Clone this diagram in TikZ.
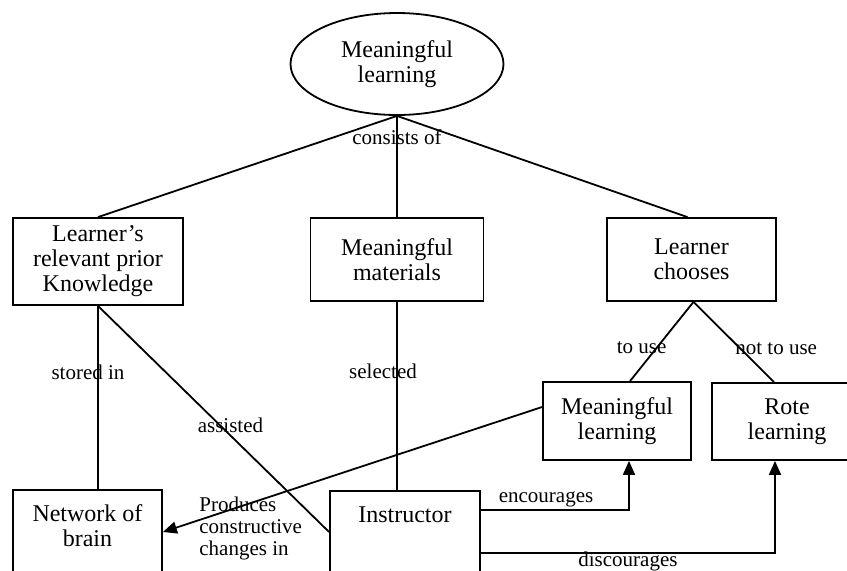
\documentclass[tikz,border=0pt]{standalone}
\usepackage{fontspec}
\setmainfont{Liberation Serif}
\usetikzlibrary{arrows.meta,positioning,calc,shapes.geometric}
\tikzset{
  box/.style={draw,line width=0.9pt,align=center,inner sep=2pt,font=\fontsize{12}{12.5}\selectfont},
  oval/.style={draw,ellipse,line width=0.9pt,align=center,inner sep=0pt,minimum width=106.5pt,minimum height=51pt,font=\fontsize{12}{12.5}\selectfont},
  open/.style={box,anchor=north,text height=12pt,text depth=40pt,inner ysep=4pt},
  lnk/.style={line width=0.9pt},
  arr/.style={lnk,-{Triangle[length=7pt,width=6pt]}},
  lbl/.style={font=\fontsize{10.5}{11}\selectfont,inner sep=1pt},
}

\begin{document}
\begin{tikzpicture}[x=0.5pt,y=-0.5pt]
 \useasboundingbox (0,0) rectangle (847,570);
 \clip (0,0) rectangle (847,570);
 \node[oval] (top) at (397,64) {Meaningful\\learning};
 \node[box,minimum width=85pt,minimum height=43.5pt] (prior) at (98,261.5) {Learner's\\relevant prior\\Knowledge};
 \node[box,minimum width=86.5pt,minimum height=41.5pt] (mat) at (397,259.5) {Meaningful\\materials};
 \node[box,minimum width=84.5pt,minimum height=41.5pt] (choose) at (691.5,259.5) {Learner\\chooses};
 \node[box,minimum width=74pt,minimum height=39pt] (mean) at (617,421) {Meaningful\\learning};
 \node[box,minimum width=75pt,minimum height=38.5pt] (rote) at (787,421.5) {Rote\\learning};
 \node[open,minimum width=74.5pt,text height=24.5pt] (brain) at (87.5,489) {Network of\\brain};
 \node[open,minimum width=75pt] (instr) at (405,490) {Instructor};
 % top level
 \draw[lnk](top.south)--(prior.north);
 \draw[lnk](top.south)--node[lbl,pos=0.21]{consists of}(mat.north);
 \draw[lnk](top.south)--([xshift=-2pt]choose.north);
 % left and middle
 \draw[lnk](prior.south)--node[lbl,pos=0.36,xshift=-5pt]{stored in}(prior.south|-brain.north);
 \draw[lnk](prior.south)--node[lbl,pos=0.53,xshift=5pt]{assisted}([yshift=-21pt]instr.north west);
 \draw[lnk](mat.south)--node[lbl,pos=0.37,xshift=-7pt]{selected}(mat.south|-instr.north);
 \draw[arr]([yshift=7pt]mean.west)--([yshift=-21.5pt]brain.north east);
 \node[lbl,align=left,anchor=north west,inner sep=0pt] (prod) at (199,497) {Produces\\constructive\\changes in};
 % right
 \draw[lnk]([xshift=1pt]choose.south)--node[lbl,pos=0.58,xshift=-7.5pt]{to use}([xshift=6.5pt]mean.north);
 \draw[lnk]([xshift=1pt]choose.south)--node[lbl,pos=0.58,xshift=18pt]{not to use}([xshift=-6.5pt]rote.north);
 \draw[arr]([yshift=-10pt]instr.north east)-|node[lbl,pos=0.22,above]{encourages}([xshift=6pt]mean.south);
 \draw[arr]([yshift=-31.5pt]instr.north east)-|node[lbl,pos=0.25,below,inner sep=0pt,yshift=0.8pt]{discourages}([xshift=-6pt]rote.south);
\end{tikzpicture}
\end{document}
